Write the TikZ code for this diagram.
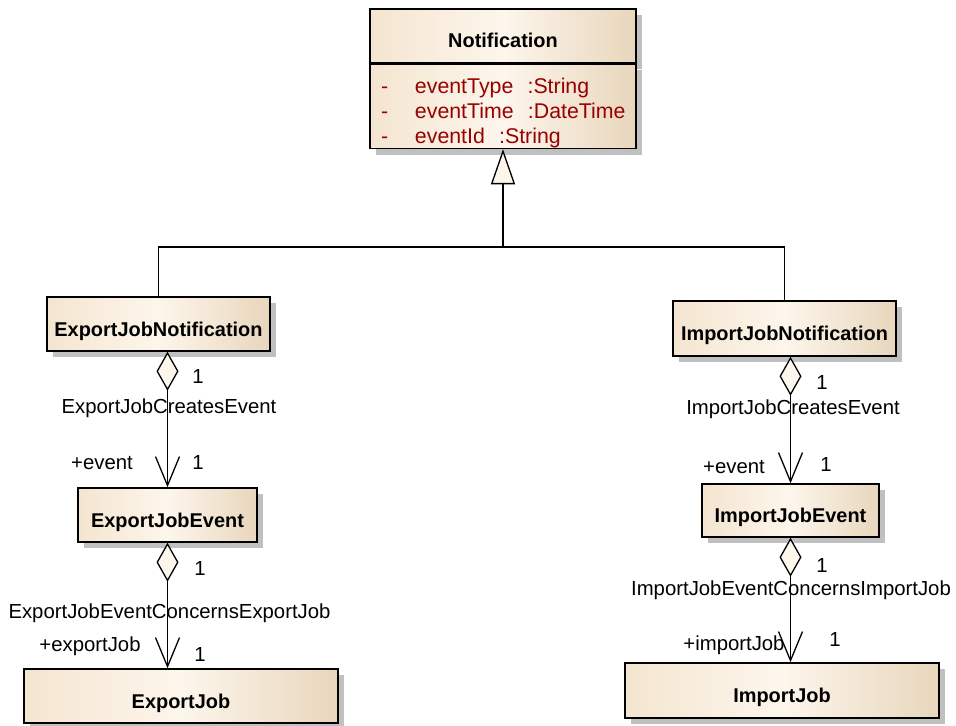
\documentclass[tikz,border=0pt]{standalone}
\usepackage{fontspec}
\setmainfont{Liberation Sans}
\usetikzlibrary{arrows.meta,shadows}

\definecolor{boxleft}{RGB}{244,229,208}
\definecolor{boxmid}{RGB}{253,246,236}
\definecolor{boxright}{RGB}{232,214,188}
\definecolor{attrred}{RGB}{153,0,0}
\definecolor{shadowgray}{RGB}{192,192,192}

\newcommand{\attrrow}[2]{\makebox[45bp][l]{\hspace{11bp}-}#1\ \ :#2}

\tikzset{
  classfill/.style={draw, line width=1.5bp, left color=boxleft, right color=boxright, middle color=boxmid,
    drop shadow={shadow xshift=6bp, shadow yshift=-6bp, fill=shadowgray, opacity=1}, inner sep=0bp},
  umlclass/.style={classfill, font=\bfseries\fontsize{20}{23}\selectfont, text height=24bp, text depth=0bp},
  lbl/.style={font=\fontsize{20.4}{23}\selectfont, inner sep=0bp},
  assoc/.style={line width=1.3bp, {Diamond[fill=boxmid,length=39bp,width=22bp]}-{Straight Barb[length=29bp,width=24bp]}},
  inherit/.style={line width=1.3bp, -{Triangle[fill=boxmid,length=35bp,width=24bp]}}
}

\begin{document}
\begin{tikzpicture}[x=1bp, y=-1bp]
    \useasboundingbox (0,0) rectangle (956,726);

    % classes
    \node[umlclass, minimum width=266bp, minimum height=54bp] (notif) at (503,36) {Notification};
    \node[classfill, anchor=north, minimum width=266bp, minimum height=84bp, text width=266bp, align=left,
          text=attrred, font=\fontsize{21.4}{25}\selectfont] (notifattr) at (notif.south)
        {\rule{0pt}{28bp}\attrrow{eventType}{String}\\
         \attrrow{eventTime}{DateTime}\\
         \attrrow{eventId}{String}};

    \node[umlclass, minimum width=223bp, minimum height=54bp] (enot) at (158.5,324) {ExportJobNotification};
    \node[umlclass, minimum width=179bp, minimum height=54bp] (eev) at (167.5,515) {ExportJobEvent};
    \node[umlclass, minimum width=314bp, minimum height=54bp] (ejob) at (181,696) {ExportJob};

    \node[umlclass, minimum width=223bp, minimum height=55bp] (inot) at (784.5,328.5) {ImportJobNotification};
    \node[umlclass, minimum width=177bp, minimum height=53bp] (iev) at (790.5,510.5) {ImportJobEvent};
    \node[umlclass, minimum width=314bp, minimum height=55bp] (ijob) at (782,690.5) {ImportJob};

    % generalization
    \coordinate (split) at (503,247);
    \draw[line width=1.3bp] (enot.north) |- (split) -| (inot.north);
    \draw[inherit] (split) -- (notifattr.south);

    % associations
    \draw[assoc] (eev.north |- enot.south) -- (eev.north);
    \draw[assoc] (eev.south) -- (eev.south |- ejob.north);
    \draw[assoc] (iev.north |- inot.south) -- (iev.north);
    \draw[assoc] (iev.south) -- (iev.south |- ijob.north);

    % association labels
    \node[lbl] (emult1) at (198,377) {1};
    \node[lbl] (ecreates) at (169,408) {ExportJobCreatesEvent};
    \node[lbl] (erole1) at (102,463) {+event};
    \node[lbl] (emult2) at (198,463) {1};
    \node[lbl] (emult3) at (200,569) {1};
    \node[lbl] (econcerns) at (169.5,613) {ExportJobEventConcernsExportJob};
    \node[lbl] (erole2) at (90,646) {+exportJob};
    \node[lbl] (emult4) at (200,655) {1};

    \node[lbl] (imult1) at (822,383) {1};
    \node[lbl] (icreates) at (793,409) {ImportJobCreatesEvent};
    \node[lbl] (irole1) at (734,467) {+event};
    \node[lbl] (imult2) at (826,465) {1};
    \node[lbl] (imult3) at (822,566) {1};
    \node[lbl] (iconcerns) at (791,590) {ImportJobEventConcernsImportJob};
    \node[lbl] (irole2) at (734,645) {+importJob};
    \node[lbl] (imult4) at (835,640) {1};
\end{tikzpicture}
\end{document}
